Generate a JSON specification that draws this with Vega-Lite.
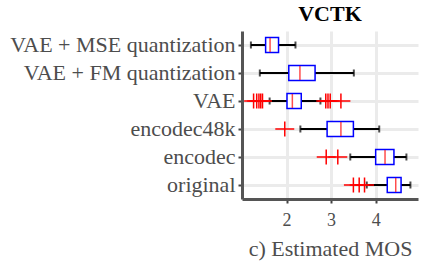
{
  "$schema": "https://vega.github.io/schema/vega-lite/v6.json",
  "width": 176,
  "height": 168,
  "autosize": {"type": "none"},
  "padding": {"left": 242, "top": 31, "right": 24, "bottom": 65},
  "title": {"text": "VCTK", "font": "Liberation Serif", "fontSize": 22, "fontWeight": "bold", "color": "black", "anchor": "middle", "offset": 5},
  "config": {
    "view": {"stroke": null},
    "axis": {
      "labelFont": "Liberation Serif",
      "titleFont": "Liberation Serif",
      "labelColor": "#4d4d4d",
      "titleColor": "#4d4d4d",
      "titleFontWeight": "normal",
      "labelLimit": 0
    },
    "axisX": {
      "labelFont": "Liberation Serif",
      "titleFont": "Liberation Serif",
      "labelFontSize": 18,
      "titleFontSize": 22
    }
  },
  "datasets": {
    "stats": [
      {"method": "VAE + MSE quantization", "lo": 1.2, "q1": 1.53, "med": 1.63, "q3": 1.82, "hi": 2.2},
      {"method": "VAE + FM quantization", "lo": 1.4, "q1": 2.05, "med": 2.3, "q3": 2.64, "hi": 3.51},
      {"method": "VAE", "lo": 1.62, "q1": 2.01, "med": 2.13, "q3": 2.33, "hi": 2.76},
      {"method": "encodec48k", "lo": 2.31, "q1": 2.91, "med": 3.22, "q3": 3.5, "hi": 4.08},
      {"method": "encodec", "lo": 3.43, "q1": 4.0, "med": 4.21, "q3": 4.41, "hi": 4.69},
      {"method": "original", "lo": 3.8, "q1": 4.26, "med": 4.45, "q3": 4.57, "hi": 4.78}
    ],
    "outliers": [
      {"method": "VAE", "v": 1.26},
      {"method": "VAE", "v": 1.33},
      {"method": "VAE", "v": 1.38},
      {"method": "VAE", "v": 1.42},
      {"method": "VAE", "v": 1.46},
      {"method": "VAE", "v": 2.88},
      {"method": "VAE", "v": 2.93},
      {"method": "VAE", "v": 2.98},
      {"method": "VAE", "v": 3.22},
      {"method": "encodec48k", "v": 1.96},
      {"method": "encodec", "v": 2.89},
      {"method": "encodec", "v": 3.15},
      {"method": "original", "v": 3.5},
      {"method": "original", "v": 3.63},
      {"method": "original", "v": 3.75}
    ]
  },
  "encoding": {
    "y": {
      "field": "method",
      "type": "nominal",
      "sort": ["VAE + MSE quantization", "VAE + FM quantization", "VAE", "encodec48k", "encodec", "original"],
      "scale": {"domain": ["VAE + MSE quantization", "VAE + FM quantization", "VAE", "encodec48k", "encodec", "original"], "paddingInner": 0, "paddingOuter": 0},
      "axis": {
        "title": null,
        "bandPosition": 0.5,
        "labelFont": "Liberation Serif",
        "labelFontSize": 22,
        "labelColor": "#4d4d4d",
        "labelLimit": 0,
        "labelPadding": 3,
        "tickSize": 4,
        "tickWidth": 2,
        "tickColor": "#444444",
        "domainColor": "#555555",
        "domainWidth": 3,
        "grid": true,
        "gridColor": "#ebebeb",
        "gridWidth": 3
      }
    }
  },
  "layer": [
    {
      "data": {"name": "stats"},
      "mark": {"type": "rule", "color": "black", "strokeWidth": 2},
      "encoding": {
        "x": {
          "field": "lo",
          "type": "quantitative",
          "title": "c) Estimated MOS",
          "scale": {"domain": [1.0, 4.95], "nice": false, "zero": false},
          "axis": {
            "values": [2, 3, 4],
            "labelFont": "Liberation Serif",
            "labelFontSize": 18,
            "labelColor": "#4d4d4d",
            "labelPadding": 8,
            "tickSize": 4,
            "tickWidth": 2,
            "tickColor": "#444444",
            "domainColor": "#555555",
            "domainWidth": 3,
            "grid": true,
            "gridColor": "#ebebeb",
            "gridWidth": 3,
            "titleFont": "Liberation Serif",
            "titleFontSize": 22,
            "titleFontWeight": "normal",
            "titleColor": "#4d4d4d",
            "titlePadding": 9
          }
        },
        "x2": {"field": "hi"}
      }
    },
    {
      "data": {"name": "stats"},
      "mark": {"type": "tick", "color": "black", "thickness": 2, "size": 7},
      "encoding": {"x": {"field": "lo", "type": "quantitative", "title": "c) Estimated MOS"}}
    },
    {
      "data": {"name": "stats"},
      "mark": {"type": "tick", "color": "black", "thickness": 2, "size": 7},
      "encoding": {"x": {"field": "hi", "type": "quantitative", "title": "c) Estimated MOS"}}
    },
    {
      "data": {"name": "stats"},
      "mark": {"type": "bar", "fill": "white", "stroke": "#0000ff", "strokeWidth": 1.5, "size": 15},
      "encoding": {
        "x": {"field": "q1", "type": "quantitative", "title": "c) Estimated MOS"},
        "x2": {"field": "q3"}
      }
    },
    {
      "data": {"name": "stats"},
      "mark": {"type": "tick", "color": "red", "thickness": 1.5, "size": 14},
      "encoding": {"x": {"field": "med", "type": "quantitative", "title": "c) Estimated MOS"}}
    },
    {
      "data": {"name": "outliers"},
      "mark": {"type": "point", "shape": "M-1,0H1M0,-0.8V0.8", "filled": false, "color": "red", "strokeWidth": 1.5, "size": 360, "opacity": 1},
      "encoding": {"x": {"field": "v", "type": "quantitative", "title": "c) Estimated MOS"}}
    }
  ]
}
